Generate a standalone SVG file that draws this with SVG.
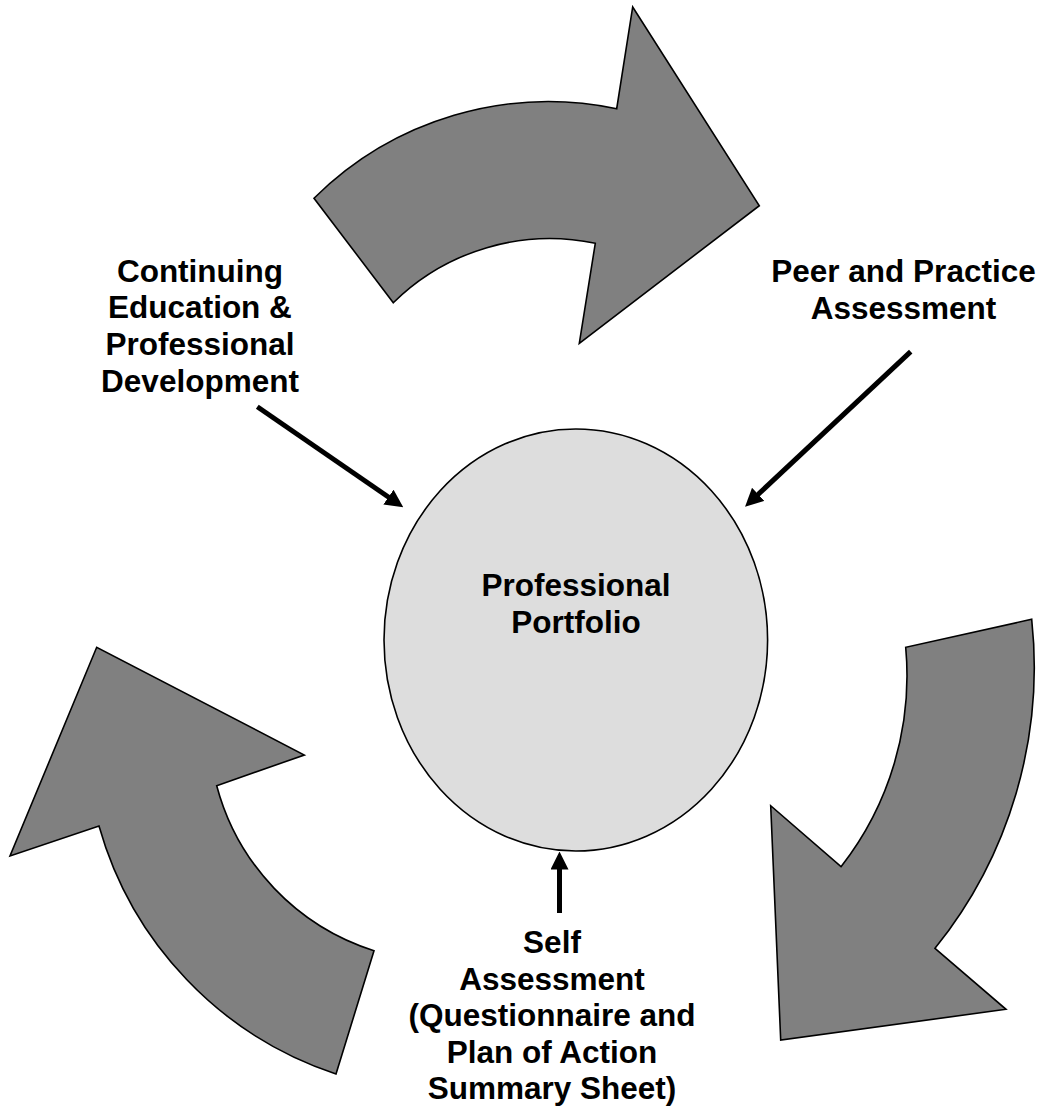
<svg xmlns="http://www.w3.org/2000/svg" width="1044" height="1109" viewBox="0 0 1044 1109">
  <style>
    .cycle { fill: #808080; stroke: #000; stroke-width: 1.6; stroke-linejoin: miter; }
    .hub { fill: #dddddd; stroke: #000; stroke-width: 1.6; }
    .label { font-family: "Liberation Sans", Arial, sans-serif; font-weight: bold; font-size: 31.5px; fill: #000; text-anchor: middle; }
    .link { stroke: #000; stroke-width: 5; fill: none; marker-end: url(#head); }
  </style>
  <defs>
    <marker id="head" markerUnits="userSpaceOnUse" markerWidth="18" markerHeight="18" refX="3" refY="9" orient="auto">
      <path d="M0,0 L18,9 L0,18 z" fill="#000"/>
    </marker>
  </defs>
  <rect width="1044" height="1109" fill="#fff"/>

  <!-- curved cycle arrows -->
  <g id="arrow-top">
    <path class="cycle" d="M314,198.3 A333,333 0 0 1 616.7,108.7 L632.7,7 L759.3,205.7 L579.3,343.3 L595.3,243.3 A223,223 0 0 0 393.3,302.7 Z"/>
  </g>
  <g id="arrow-right">
    <path class="cycle" d="M1031.7,619.3 A448,448 0 0 1 935,948.3 L1006,1009.3 L780.7,1040 L770.7,805.7 L841,866.7 A310,310 0 0 0 905.7,647.3 Z"/>
  </g>
  <g id="arrow-left">
    <path class="cycle" d="M336,1074 A366,366 0 0 1 99,826 L10,856 L96.7,647.3 L304.3,755 L216.7,785.7 A237,237 0 0 0 374,950.7 Z"/>
  </g>

  <!-- central node -->
  <g id="portfolio">
    <ellipse class="hub" cx="575.8" cy="640" rx="191.8" ry="211"/>
    <text class="label" x="576" y="596">Professional</text>
    <text class="label" x="576" y="632.7">Portfolio</text>
  </g>

  <!-- input labels -->
  <g id="continuing-education">
    <text class="label" x="200" y="281.7">Continuing</text>
    <text class="label" x="200" y="318.3">Education &amp;</text>
    <text class="label" x="200" y="355">Professional</text>
    <text class="label" x="200" y="391.7">Development</text>
  </g>
  <g id="peer-assessment">
    <text class="label" x="903.5" y="281.7">Peer and Practice</text>
    <text class="label" x="903.5" y="319">Assessment</text>
  </g>
  <g id="self-assessment">
    <text class="label" x="552" y="953">Self</text>
    <text class="label" x="552" y="989.5">Assessment</text>
    <text class="label" x="552" y="1026">(Questionnaire and</text>
    <text class="label" x="552" y="1062.5">Plan of Action</text>
    <text class="label" x="552" y="1099">Summary Sheet)</text>
  </g>

  <!-- connectors into the portfolio -->
  <g id="connectors">
    <line class="link" x1="257.3" y1="406.7" x2="390.9" y2="498.8"/>
    <line class="link" x1="910.7" y1="351.7" x2="756" y2="496.4"/>
    <line class="link" x1="559.5" y1="913" x2="559.5" y2="866.5"/>
  </g>
</svg>
